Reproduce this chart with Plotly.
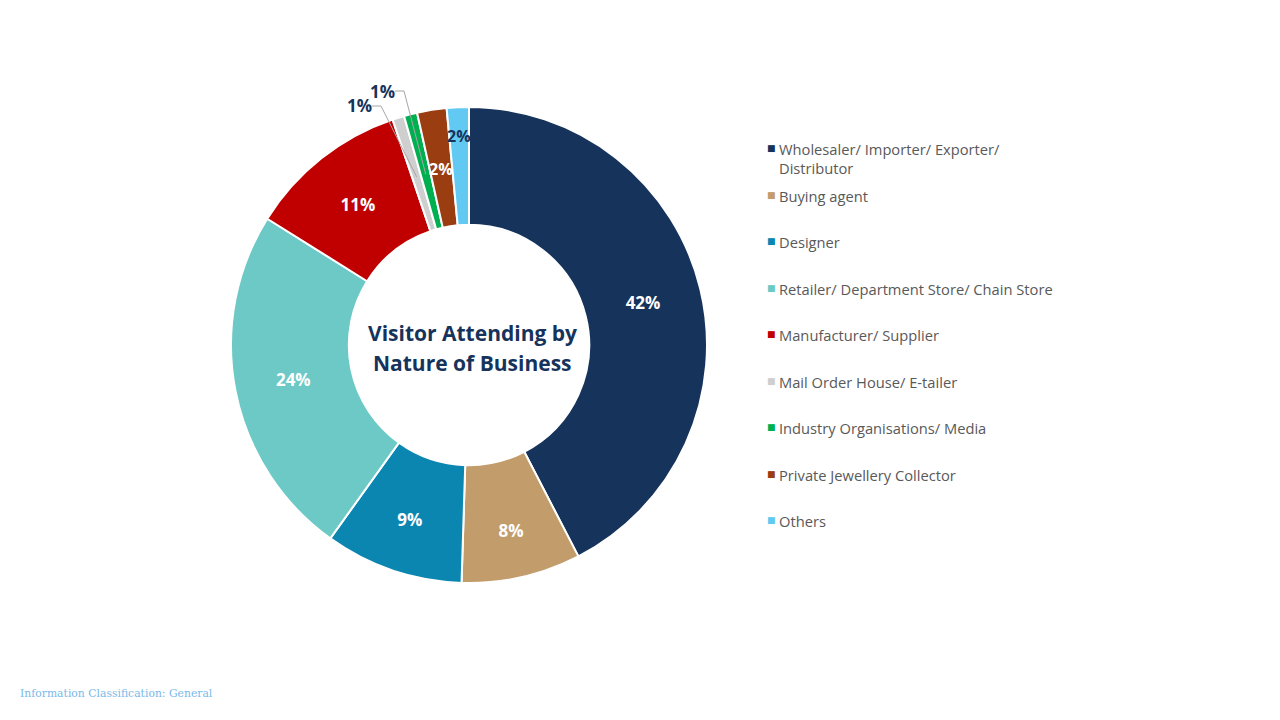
import math
import plotly.graph_objects as go

# ---- data ----
categories = [
    "Wholesaler/ Importer/ Exporter/ Distributor",
    "Buying agent",
    "Designer",
    "Retailer/ Department Store/ Chain Store",
    "Manufacturer/ Supplier",
    "Mail Order House/ E-tailer",
    "Industry Organisations/ Media",
    "Private Jewellery Collector",
    "Others",
]
legend_labels = [
    "Wholesaler/ Importer/ Exporter/<br>Distributor",
    "Buying agent",
    "Designer",
    "Retailer/ Department Store/ Chain Store",
    "Manufacturer/ Supplier",
    "Mail Order House/ E-tailer",
    "Industry Organisations/ Media",
    "Private Jewellery Collector",
    "Others",
]
values = [42.4, 8.1, 9.4, 24.0, 10.9, 0.8, 0.9, 2.0, 1.5]
pct_labels = ["42%", "8%", "9%", "24%", "11%", "1%", "1%", "2%", "2%"]
colors = ["#16335b", "#c29c6b", "#0b86b1", "#6dc9c5", "#c00000",
          "#cfcfcf", "#00b050", "#9a3d10", "#62caf2"]
title_lines = ["Visitor Attending by", "Nature of Business"]

# ---- layout constants ----
W, H = 1280, 720
OFF = 8  # page body margin
cx, cy, R = 469 - OFF, 345 - OFF, 238
NAVY = "#16335b"
FONT = "Open Sans"

def px2paper(px, py):
    """screen pixel -> paper coords"""
    return (px - OFF) / W, 1 - (py - OFF) / H

inside_pos = ["inside"] * 5 + ["none"] * 4

fig = go.Figure()
fig.add_trace(go.Pie(
    labels=categories,
    values=values,
    text=pct_labels,
    textinfo="text",
    textposition=inside_pos,
    insidetextorientation="horizontal",
    insidetextfont=dict(family=FONT, size=17, color="white", weight="bold"),
    hole=0.505,
    sort=False,
    direction="clockwise",
    rotation=0,
    marker=dict(colors=colors, line=dict(color="white", width=2)),
    domain=dict(x=[(cx - R) / W, (cx + R) / W], y=[1 - (cy + R) / H, 1 - (cy - R) / H]),
    showlegend=False,
    hoverinfo="label+percent",
))

total = sum(values)
def slice_paper(i, frac_r):
    start = sum(values[:i])
    mid = (start + values[i] / 2) / total * 2 * math.pi
    px = cx + frac_r * R * math.sin(mid)
    py = cy - frac_r * R * math.cos(mid)
    return px / W, 1 - py / H

annotations = []
shapes = []
# small labels with bent leader lines (Mail order, Industry)
for i, (tx, ty) in [(5, (359, 106)), (6, (382, 91))]:
    tipx, tipy = slice_paper(i, 0.74)
    lx, ly = px2paper(tx, ty)
    x1, _ = px2paper(tx + 13, ty)
    x2, _ = px2paper(tx + 22, ty)
    annotations.append(dict(
        x=lx, y=ly, xref="paper", yref="paper", text=f"<b>{pct_labels[i]}</b>",
        xanchor="center", yanchor="middle",
        showarrow=False, font=dict(family=FONT, size=17, color=NAVY),
    ))
    shapes.append(dict(
        type="path", xref="paper", yref="paper",
        path=f"M {x1} {ly} L {x2} {ly} L {tipx} {tipy}",
        line=dict(color="#a6a6a6", width=1),
    ))
# labels for narrow slices placed over the slice
for i, fr, col in [(7, 0.75, "white"), (8, 0.88, NAVY)]:
    x, y = slice_paper(i, fr)
    annotations.append(dict(
        x=x, y=y, xref="paper", yref="paper", text=f"<b>{pct_labels[i]}</b>",
        xanchor="center", yanchor="middle",
        showarrow=False, font=dict(family=FONT, size=16, color=col),
    ))

# centre title
for line, yy in zip(title_lines, (333, 363)):
    x, y = px2paper(472, yy)
    annotations.append(dict(
        x=x, y=y, xref="paper", yref="paper",
        text=f"<b>{line}</b>", showarrow=False,
        xanchor="center", yanchor="middle",
        font=dict(family=FONT, size=21, color=NAVY),
    ))

# custom legend
leg_x, leg_y0, leg_dy = 771, 148, 46.5
for k, (lab, col) in enumerate(zip(legend_labels, colors)):
    yy = leg_y0 + k * leg_dy
    x, y = px2paper(leg_x, yy)
    annotations.append(dict(
        x=x, y=y, xref="paper", yref="paper", text="■",
        showarrow=False, xanchor="center", yanchor="middle",
        font=dict(family="DejaVu Sans", size=9, color=col),
    ))
    x, y = px2paper(leg_x + 6, yy - 11)
    annotations.append(dict(
        x=x, y=y, xref="paper", yref="paper", text=lab,
        showarrow=False, xanchor="left", yanchor="top", align="left",
        font=dict(family=FONT, size=14.7, color="#595959"),
    ))

x, y = px2paper(18, 693)
annotations.append(dict(
    x=x, y=y, xref="paper", yref="paper",
    text="Information Classification: General", showarrow=False,
    xanchor="left", yanchor="middle",
    font=dict(family="DejaVu Serif", size=10.8, color="#7ab9e9"),
))

fig.update_layout(
    width=W, height=H, margin=dict(l=0, r=0, t=0, b=0),
    paper_bgcolor="white", plot_bgcolor="white",
    annotations=annotations, shapes=shapes,
)
fig.write_html("out.html")
